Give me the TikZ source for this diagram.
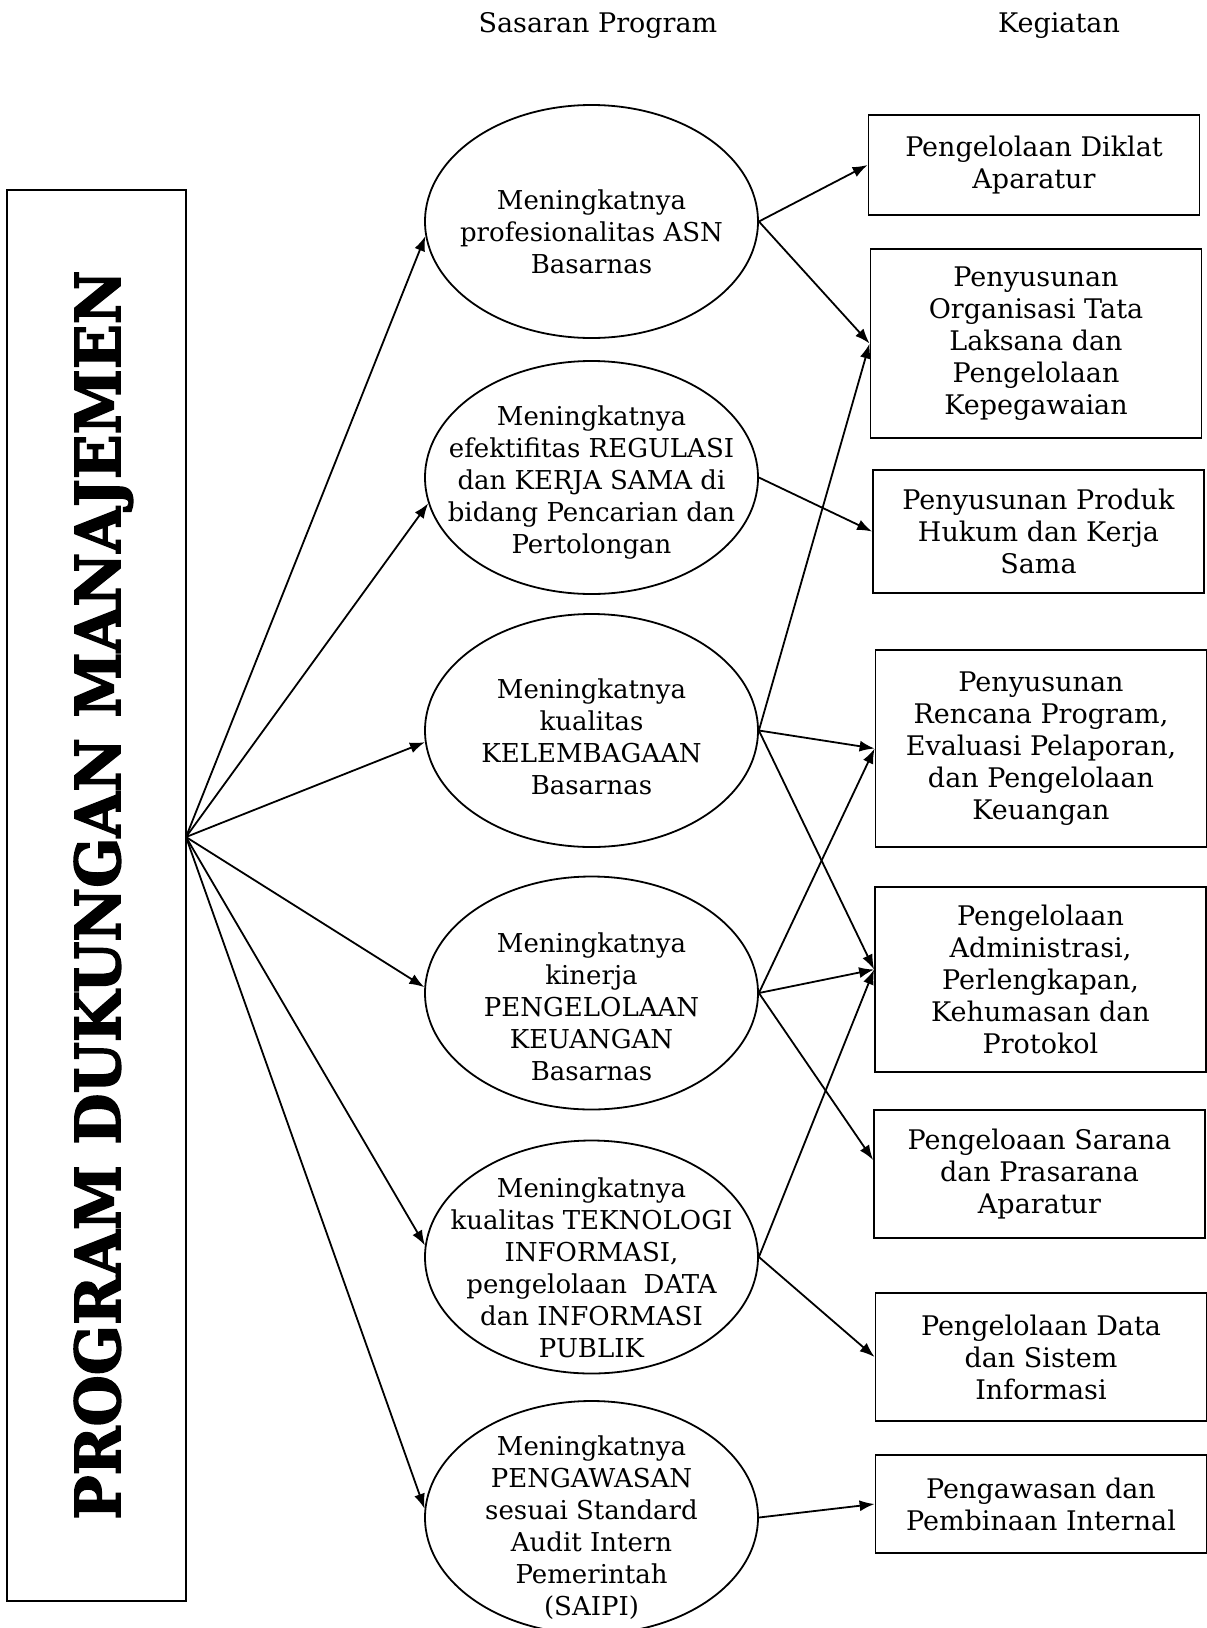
\documentclass[tikz,border=0pt]{standalone}
\usepackage{fontspec}
\setmainfont{DejaVu Serif}
\newfontfamily\judulfont{DejaVu Serif}[BoldFeatures={FakeBold=2.5}]
\usetikzlibrary{shapes.geometric,arrows.meta}
\begin{document}
\begin{tikzpicture}[x=1pt,y=-1pt,line width=1.8pt,
  teks/.style={font=\fontsize{26}{32}\selectfont, align=center, inner sep=0pt},
  tebal/.style={font=\fontsize{27}{32}\selectfont, align=center},
  sasaran/.style={draw, ellipse, minimum width=333pt, minimum height=233pt, inner sep=0pt},
  kegiatan/.style={tebal, draw, rectangle, minimum width=331pt},
  panah/.style={-{Latex[length=15pt,width=11pt]}}]
\useasboundingbox (0,0) rectangle (1207,1628);
\node[tebal, anchor=base, inner sep=0pt] (hsasaran) at (598,32) {Sasaran Program};
\node[tebal, anchor=base, inner sep=0pt] (hkegiatan) at (1059,32) {Kegiatan};
\node[draw, minimum width=179pt, minimum height=1411pt] (prog) at (96.5,895.5) {};
\node[rotate=90, xscale=0.95, anchor=base, inner sep=0pt, font=\fontsize{62}{70}\judulfont\bfseries] (progt) at (120,895) {PROGRAM DUKUNGAN MANAJEMEN};
\node[sasaran] (s1) at (591.5,221.5) {};
\node[sasaran] (s2) at (591.5,477.5) {};
\node[sasaran] (s3) at (591.5,730.5) {};
\node[sasaran] (s4) at (591.5,993) {};
\node[sasaran] (s5) at (591.5,1257) {};
\node[sasaran] (s6) at (591.5,1517.5) {};
\node[teks] (s1t) at ([yshift=-10pt]s1.center) {Meningkatnya\\profesionalitas ASN\\Basarnas};
\node[teks] (s2t) at ([yshift=-5pt]s2.center) {Meningkatnya\\efektifitas REGULASI\\dan KERJA SAMA di\\bidang Pencarian dan\\Pertolongan};
\node[teks] (s3t) at ([yshift=-6pt]s3.center) {Meningkatnya\\kualitas\\KELEMBAGAAN\\Basarnas};
\node[teks] (s4t) at ([yshift=-14pt]s4.center) {Meningkatnya\\kinerja\\PENGELOLAAN\\KEUANGAN\\Basarnas};
\node[teks] (s5t) at ([yshift=-11pt]s5.center) {Meningkatnya\\kualitas TEKNOLOGI\\INFORMASI,\\pengelolaan\ \ DATA\\dan INFORMASI\\PUBLIK};
\node[teks] (s6t) at ([yshift=-10pt]s6.center) {Meningkatnya\\PENGAWASAN\\sesuai Standard\\Audit Intern\\Pemerintah\\(SAIPI)};
\node[kegiatan, minimum height=100pt] (k1) at (1034,165) {Pengelolaan Diklat\\Aparatur};
\node[kegiatan, minimum height=189pt] (k2) at (1036,343.5) {Penyusunan\\Organisasi Tata\\Laksana dan\\Pengelolaan\\Kepegawaian};
\node[kegiatan, minimum height=123pt] (k3) at (1038.5,531.5) {Penyusunan Produk\\Hukum dan Kerja\\Sama};
\node[kegiatan, minimum height=197pt] (k4) at (1041,748.5) {Penyusunan\\Rencana Program,\\Evaluasi Pelaporan,\\dan Pengelolaan\\Keuangan};
\node[kegiatan, minimum height=185pt] (k5) at (1040.5,979.5) {Pengelolaan\\Administrasi,\\Perlengkapan,\\Kehumasan dan\\Protokol};
\node[kegiatan, minimum height=128pt] (k6) at (1039.5,1174) {Pengeloaan Sarana\\dan Prasarana\\Aparatur};
\node[kegiatan, minimum height=128pt] (k7) at (1041,1357) {Pengelolaan Data\\dan Sistem\\Informasi};
\node[kegiatan, minimum height=98pt] (k8) at (1041,1504) {Pengawasan dan\\Pembinaan Internal};
\coordinate (fan) at (186,837);
\foreach \s/\a in {s1/185,s2/189,s3/184.5,s4/178,s5/176,s6/177}
  \draw[panah] (fan) -- (\s.\a);
\draw[panah] (s1.east) -- (k1.west);
\draw[panah] (s1.east) -- (k2.west);
\draw[panah] (s2.east) -- (k3.west);
\draw[panah] (s3.east) -- (k2.west);
\draw[panah] (s3.east) -- (k4.west);
\draw[panah] (s3.east) -- ([yshift=10pt]k5.west);
\draw[panah] (s4.east) -- (k4.west);
\draw[panah] (s4.east) -- ([yshift=10pt]k5.west);
\draw[panah] (s4.east) -- ([yshift=14pt]k6.west);
\draw[panah] (s5.east) -- ([yshift=10pt]k5.west);
\draw[panah] (s5.east) -- (k7.west);
\draw[panah] (s6.east) -- (k8.west);
\end{tikzpicture}
\end{document}
